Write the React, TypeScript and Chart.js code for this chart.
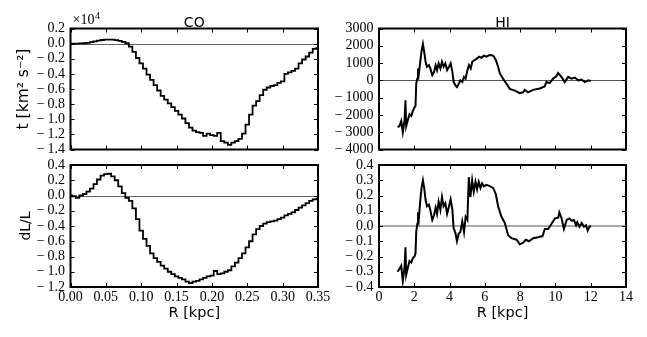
import React, { useEffect, useRef } from 'react';
import { Chart, registerables } from 'chart.js';

Chart.register(...registerables);

// ---------- data ----------
const rCO = [
  0.000, 0.005, 0.010, 0.015, 0.020, 0.025, 0.030, 0.035, 0.040, 0.045,
  0.050, 0.055, 0.060, 0.065, 0.070, 0.075, 0.080, 0.085, 0.090, 0.095,
  0.100, 0.105, 0.110, 0.115, 0.120, 0.125, 0.130, 0.135, 0.140, 0.145,
  0.150, 0.155, 0.160, 0.165, 0.170, 0.175, 0.180, 0.185, 0.190, 0.195,
  0.200, 0.205, 0.210, 0.215, 0.220, 0.225, 0.230, 0.235, 0.240, 0.245,
  0.250, 0.255, 0.260, 0.265, 0.270, 0.275, 0.280, 0.285, 0.290, 0.295,
  0.300, 0.305, 0.310, 0.315, 0.320, 0.325, 0.330, 0.335, 0.340, 0.345,
  0.350,
];

const tCO = [
  0.000, 0.000, 0.001, 0.002, 0.005, 0.010, 0.020, 0.030, 0.040, 0.048,
  0.052, 0.054, 0.052, 0.046, 0.036, 0.022, 0.005, -0.040, -0.110, -0.190,
  -0.260, -0.330, -0.410, -0.480, -0.550, -0.620, -0.690, -0.740, -0.790, -0.840,
  -0.890, -0.940, -0.990, -1.050, -1.110, -1.150, -1.170, -1.180, -1.220, -1.190,
  -1.210, -1.220, -1.180, -1.290, -1.310, -1.340, -1.310, -1.290, -1.260, -1.190,
  -1.070, -0.940, -0.820, -0.760, -0.680, -0.610, -0.580, -0.560, -0.550, -0.520,
  -0.500, -0.400, -0.380, -0.360, -0.330, -0.260, -0.210, -0.170, -0.120, -0.070,
  -0.060,
];

const dlCO = [
  0.00, -0.01, -0.03, 0.00, 0.02, 0.05, 0.09, 0.15, 0.21, 0.26,
  0.28, 0.285, 0.25, 0.20, 0.12, 0.03, -0.03, -0.07, -0.17, -0.31,
  -0.46, -0.57, -0.66, -0.76, -0.82, -0.87, -0.92, -0.96, -1.00, -1.03,
  -1.06, -1.08, -1.10, -1.13, -1.15, -1.13, -1.12, -1.10, -1.08, -1.06,
  -1.05, -0.99, -1.03, -1.02, -1.00, -0.98, -0.93, -0.88, -0.82, -0.76,
  -0.68, -0.60, -0.51, -0.44, -0.40, -0.37, -0.35, -0.34, -0.33, -0.31,
  -0.29, -0.26, -0.24, -0.22, -0.19, -0.16, -0.13, -0.10, -0.07, -0.05,
  -0.04,
];

const rHIt = [
  1.05, 1.16, 1.26, 1.35, 1.45, 1.50, 1.54, 1.64, 1.73, 1.83,
  1.92, 2.01, 2.07, 2.11, 2.17, 2.21, 2.26, 2.34, 2.41, 2.49,
  2.56, 2.64, 2.72, 2.83, 2.91, 3.02, 3.12, 3.21, 3.29, 3.38,
  3.48, 3.57, 3.66, 3.76, 3.86, 3.97, 4.06, 4.16, 4.23, 4.33,
  4.42, 4.52, 4.61, 4.72, 4.82, 4.91, 5.01, 5.10, 5.20, 5.29,
  5.43, 5.56, 5.67, 5.80, 5.94, 6.09, 6.28, 6.40, 6.50, 6.62,
  6.75, 6.85, 7.03, 7.23, 7.41, 7.70, 7.98, 8.16, 8.26, 8.45,
  8.73, 9.11, 9.39, 9.49, 9.68, 9.86, 10.05, 10.15, 10.34, 10.53,
  10.72, 10.91, 11.10, 11.29, 11.48, 11.67, 11.86, 12.00,
];

const tHI = [
  -2700, -2650, -2350, -3000, -2280, -1150, -2650, -2280, -1960, -2060,
  -1770, -1570, -1470, -200, 100, 690, 400, 1080, 1670, 2100,
  1670, 1080, 790, 880, 690, 300, 490, 880, 590, 980,
  690, 1080, 790, 980, 590, 790, 980, 490, -100, -290,
  -390, -200, 0, -100, 200, 100, 590, 880, 690, 1080,
  1180, 1270, 1370, 1310, 1430, 1370, 1470, 1450, 1400, 1180,
  790, 400, 100, -200, -490, -590, -740, -690, -550, -690,
  -550, -470, -350, -100, -160, 100, 240, 430, 200, -100,
  200, 100, 160, 0, 40, -100, 0, -40,
];

const rHId = [
  1.05, 1.16, 1.26, 1.35, 1.45, 1.50, 1.54, 1.64, 1.73, 1.83,
  1.92, 2.01, 2.07, 2.11, 2.17, 2.21, 2.26, 2.34, 2.41, 2.49,
  2.56, 2.64, 2.72, 2.83, 2.91, 3.02, 3.12, 3.21, 3.29, 3.38,
  3.48, 3.57, 3.66, 3.76, 3.86, 3.97, 4.06, 4.16, 4.23, 4.33,
  4.42, 4.52, 4.61, 4.72, 4.82, 4.91, 5.01, 5.09, 5.18, 5.28,
  5.37, 5.47, 5.56, 5.65, 5.75, 5.84, 5.94, 6.09, 6.28, 6.47,
  6.62, 6.75, 6.94, 7.13, 7.32, 7.51, 7.80, 7.98, 8.17, 8.32,
  8.50, 8.74, 9.02, 9.27, 9.40, 9.59, 9.78, 9.97, 10.16, 10.22,
  10.35, 10.48, 10.64, 10.79, 10.92, 11.05, 11.17, 11.24, 11.36, 11.49,
  11.62, 11.73, 11.83, 11.93, 12.02,
];

const dlHI = [
  -0.30, -0.28, -0.26, -0.36, -0.27, -0.14, -0.32, -0.27, -0.23, -0.24,
  -0.21, -0.20, -0.18, -0.04, 0.015, 0.09, 0.05, 0.17, 0.25, 0.30,
  0.25, 0.17, 0.13, 0.14, 0.105, 0.04, 0.07, 0.12, 0.08, 0.16,
  0.105, 0.19, 0.13, 0.15, 0.08, 0.13, 0.175, 0.105, -0.015, -0.045,
  -0.10, -0.05, -0.04, 0.03, -0.04, 0.06, 0.04, 0.32, 0.19, 0.30,
  0.225, 0.29, 0.24, 0.29, 0.25, 0.28, 0.26, 0.27, 0.262, 0.25,
  0.21, 0.13, 0.06, 0.02, -0.06, -0.08, -0.09, -0.12, -0.11, -0.09,
  -0.10, -0.08, -0.074, -0.066, -0.02, -0.02, 0.015, 0.05, 0.055, 0.09,
  0.05, -0.02, 0.04, 0.05, 0.035, 0.04, 0.005, 0.025, -0.005, 0.02,
  -0.005, 0.005, -0.03, -0.005, 0.0,
];

const panelTitles = ['CO', 'HI'];
const yTitles = ['t [km\u00B2 s\u207B\u00B2]', 'dL/L'];
const xTitle = 'R [kpc]';

// ---------- rendering ----------
const W = 647;
const H = 337;
const TICK_FONT = "'Liberation Serif', 'DejaVu Serif', serif";
const SANS = "'DejaVu Sans', sans-serif";

const fmt = (dec: number) => (v: any) => {
  const n = Number(v);
  const s = Math.abs(n) < 1e-9 ? (0).toFixed(dec) : n.toFixed(dec);
  return s.startsWith('-') ? '\u2212\u2009' + s.slice(1) : s;
};

const deco = {
  id: 'deco',
  beforeDatasetsDraw(chart: any, _a: any, o: any) {
    const { ctx, chartArea: a, scales } = chart;
    const y0 = Math.round(scales.y.getPixelForValue(0)) + (o.zeroWidth % 2 ? 0.5 : 0);
    ctx.save();
    ctx.strokeStyle = o.zeroColor;
    ctx.lineWidth = o.zeroWidth;
    ctx.beginPath();
    ctx.moveTo(a.left, y0);
    ctx.lineTo(a.right, y0);
    ctx.stroke();
    ctx.restore();
  },
  afterDatasetsDraw(chart: any, _a: any, o: any) {
    const { ctx, chartArea: a, scales } = chart;
    ctx.save();
    ctx.strokeStyle = '#000';
    ctx.lineWidth = 1;
    const L = 4;
    ctx.beginPath();
    for (const t of scales.x.ticks) {
      const px = Math.round(scales.x.getPixelForValue(t.value)) + 0.5;
      ctx.moveTo(px, a.bottom); ctx.lineTo(px, a.bottom - L);
      ctx.moveTo(px, a.top); ctx.lineTo(px, a.top + L);
    }
    for (const t of scales.y.ticks) {
      const py = Math.round(scales.y.getPixelForValue(t.value)) + 0.5;
      ctx.moveTo(a.left, py); ctx.lineTo(a.left + L, py);
      ctx.moveTo(a.right, py); ctx.lineTo(a.right - L, py);
    }
    ctx.stroke();
    ctx.lineWidth = 2;
    ctx.strokeRect(a.left, a.top, a.right - a.left, a.bottom - a.top);
    ctx.fillStyle = '#000';
    if (o.title) {
      ctx.font = `14px ${SANS}`;
      ctx.textAlign = 'center';
      ctx.textBaseline = 'alphabetic';
      ctx.fillText(o.title, (a.left + a.right) / 2, a.top - 2);
    }
    if (o.exponent) {
      ctx.font = `14px ${TICK_FONT}`;
      ctx.textAlign = 'left';
      ctx.textBaseline = 'alphabetic';
      const base = '\u00D710';
      ctx.fillText(base, a.left + 2, a.top - 4.5);
      const w = ctx.measureText(base).width;
      ctx.font = `10px ${TICK_FONT}`;
      ctx.fillText(o.exponent, a.left + 2 + w + 0.5, a.top - 10);
    }
    ctx.restore();
  },
};

type Panel = {
  xs: number[]; ys: number[]; stepped: boolean;
  xMin: number; xMax: number; xStep: number; xDec: number;
  yMin: number; yMax: number; yStep: number; yDec: number;
  left: number; right: number; top: number; bottom: number; padL: number;
  showX: boolean; yTitle?: string; yTitlePad?: number; yTitleSize?: number; title?: string;
  exponent?: string; zeroColor: string; zeroWidth: number; lw: number;
};

const LEFT = { left: 70.5, right: 318, padL: 10 };
const RIGHT = { left: 379, right: 626, padL: 330 };
const TOP = { top: 28.5, bottom: 149.5 };
const BOT = { top: 165, bottom: 287 };

const panels: Panel[] = [
  {
    xs: rCO, ys: tCO, stepped: true,
    xMin: 0, xMax: 0.35, xStep: 0.05, xDec: 2,
    yMin: -1.4, yMax: 0.2, yStep: 0.2, yDec: 1,
    ...LEFT, ...TOP, showX: false, yTitle: yTitles[0], yTitlePad: 5, yTitleSize: 15.5,
    title: panelTitles[0], exponent: '4', zeroColor: '#666', zeroWidth: 1, lw: 1.8,
  },
  {
    xs: rHIt, ys: tHI, stepped: false,
    xMin: 0, xMax: 14, xStep: 2, xDec: 0,
    yMin: -4000, yMax: 3000, yStep: 1000, yDec: 0,
    ...RIGHT, ...TOP, showX: false, title: panelTitles[1],
    zeroColor: '#555', zeroWidth: 1, lw: 2,
  },
  {
    xs: rCO, ys: dlCO, stepped: true,
    xMin: 0, xMax: 0.35, xStep: 0.05, xDec: 2,
    yMin: -1.2, yMax: 0.4, yStep: 0.2, yDec: 1,
    ...LEFT, ...BOT, showX: true, yTitle: yTitles[1], yTitlePad: 8, yTitleSize: 14,
    zeroColor: '#666', zeroWidth: 1, lw: 1.8,
  },
  {
    xs: rHId, ys: dlHI, stepped: false,
    xMin: 0, xMax: 14, xStep: 2, xDec: 0,
    yMin: -0.4, yMax: 0.4, yStep: 0.1, yDec: 1,
    ...RIGHT, ...BOT, showX: true,
    zeroColor: '#aaa', zeroWidth: 2, lw: 2,
  },
];

function buildConfig(p: Panel): any {
  const padB = p.showX ? 5 : H - p.bottom;
  const xH = p.showX ? H - padB - p.bottom : 0;
  const yW = p.left - p.padL;
  return {
    type: 'line',
    data: {
      datasets: [
        {
          data: p.xs.map((x, i) => ({ x, y: p.ys[i] })),
          borderColor: '#000',
          borderWidth: p.lw,
          pointRadius: 0,
          fill: false,
          tension: 0,
          stepped: p.stepped ? 'middle' : false,
        },
      ],
    },
    options: {
      responsive: false,
      animation: false,
      devicePixelRatio: 1,
      layout: { padding: { left: p.padL, right: W - p.right, top: p.top, bottom: padB } },
      plugins: {
        legend: { display: false },
        tooltip: { enabled: false },
        title: { display: false },
        deco: {
          title: p.title || '',
          exponent: p.exponent || '',
          zeroColor: p.zeroColor,
          zeroWidth: p.zeroWidth,
        },
      },
      scales: {
        x: {
          type: 'linear',
          position: 'bottom',
          min: p.xMin,
          max: p.xMax,
          grid: { display: false, drawTicks: false },
          border: { display: false },
          ticks: {
            display: p.showX,
            stepSize: p.xStep,
            autoSkip: false,
            maxRotation: 0,
            padding: 2,
            color: '#000',
            font: { family: TICK_FONT, size: 14 },
            callback: fmt(p.xDec),
          },
          title: {
            display: p.showX,
            text: xTitle,
            color: '#000',
            font: { family: SANS, size: 14.5 },
            padding: { top: 0, bottom: 10.3 },
          },
          afterFit: (s: any) => { s.height = xH; },
        },
        y: {
          type: 'linear',
          position: 'left',
          min: p.yMin,
          max: p.yMax,
          grid: { display: false, drawTicks: false },
          border: { display: false },
          ticks: {
            stepSize: p.yStep,
            autoSkip: false,
            padding: 5.5,
            color: '#000',
            font: { family: TICK_FONT, size: 14 },
            callback: fmt(p.yDec),
          },
          title: {
            display: !!p.yTitle,
            text: p.yTitle || '',
            color: '#000',
            font: { family: SANS, size: p.yTitleSize || 14 },
            padding: { top: p.yTitlePad || 0, bottom: 0 },
          },
          afterFit: (s: any) => { s.width = yW; },
        },
      },
    },
    plugins: [deco],
  };
}

export default function App() {
  const r0 = useRef<HTMLCanvasElement>(null);
  const r1 = useRef<HTMLCanvasElement>(null);
  const r2 = useRef<HTMLCanvasElement>(null);
  const r3 = useRef<HTMLCanvasElement>(null);
  const refs = [r0, r1, r2, r3];

  useEffect(() => {
    const charts = panels.map((p, i) => new Chart(refs[i].current as HTMLCanvasElement, buildConfig(p)));
    return () => charts.forEach((c) => c.destroy());
  }, []);

  return (
    <div style={{ position: 'absolute', left: 0, top: 0, width: W, height: H, background: '#fff' }}>
      {panels.map((_, i) => (
        <canvas
          key={i}
          ref={refs[i]}
          width={W}
          height={H}
          style={{ position: 'absolute', left: 0, top: 0, width: W, height: H }}
        />
      ))}
    </div>
  );
}
